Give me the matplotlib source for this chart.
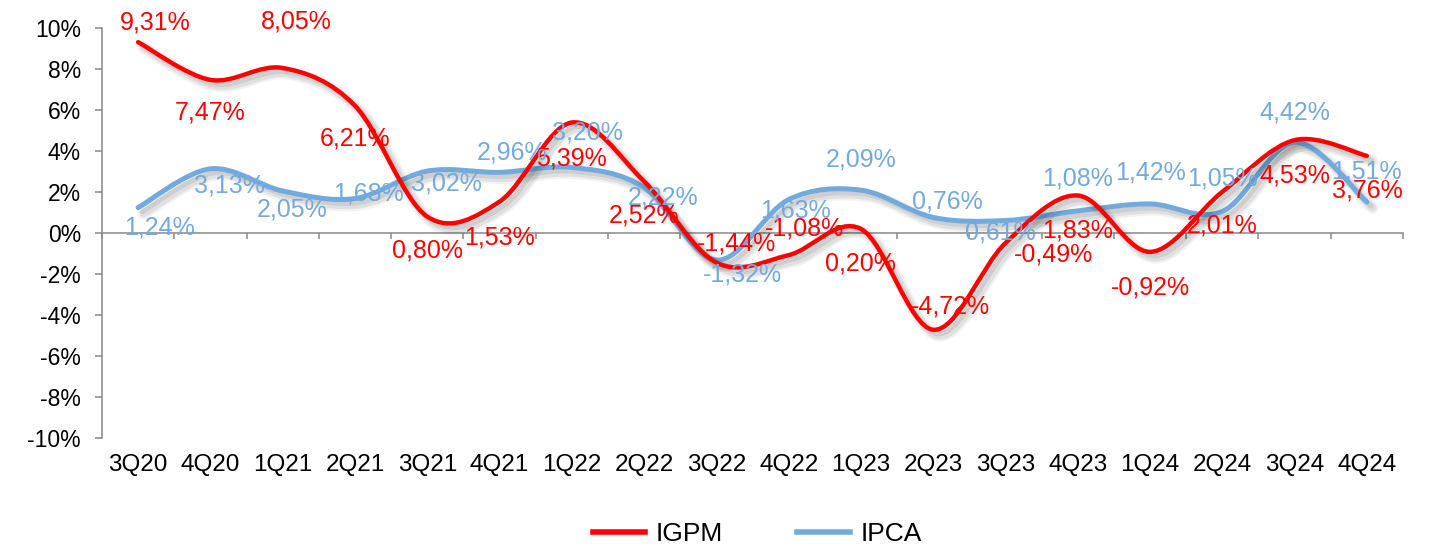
import numpy as np
import matplotlib
matplotlib.use("Agg")
import matplotlib.pyplot as plt
from matplotlib.path import Path
from matplotlib.patches import PathPatch
from matplotlib.lines import Line2D
import matplotlib.patheffects as pe

plt.rcParams['font.family'] = ['Liberation Sans', 'DejaVu Sans']

quarters = ['3Q20', '4Q20', '1Q21', '2Q21', '3Q21', '4Q21', '1Q22', '2Q22', '3Q22',
            '4Q22', '1Q23', '2Q23', '3Q23', '4Q23', '1Q24', '2Q24', '3Q24', '4Q24']
igpm = [9.31, 7.47, 8.05, 6.21, 0.80, 1.53, 5.39, 2.52, -1.44,
        -1.08, 0.20, -4.72, -0.49, 1.83, -0.92, 2.01, 4.53, 3.76]
ipca = [1.24, 3.13, 2.05, 1.68, 3.02, 2.96, 3.20, 2.22, -1.32,
        1.63, 2.09, 0.76, 0.61, 1.08, 1.42, 1.05, 4.42, 1.51]

# label offsets in pixels (dx, dy up)
igpm_off = [(17, 20), (0, -33), (14, 46), (0, -33), (0, -34), (0, -36), (0, -36), (0, -34), (20, 19),
            (16, 27), (0, -35), (17, 23), (48, -11), (0, -35), (0, -36), (0, -34), (0, -35), (0, -35)]
ipca_off = [(21, -20), (19, -17), (9, -19), (14, 5), (19, -12), (13, 20), (16, 35), (19, -10), (26, -14),
            (7, -11), (0, 31), (14, 16), (-5, -12), (0, 32), (0, 31), (0, 33), (0, 30), (0, 31)]

RED = '#FF0000'
BLUE = '#72AADE'


def smooth_path(xs, ys):
    # catmull-rom as cubic bezier, like excel's smoothed line
    pts = np.column_stack([xs, ys]).astype(float)
    verts = [pts[0]]
    codes = [Path.MOVETO]
    n = len(pts)
    for i in range(n - 1):
        p0 = pts[i - 1] if i > 0 else pts[i]
        p1 = pts[i]
        p2 = pts[i + 1]
        p3 = pts[i + 2] if i + 2 < n else pts[i + 1]
        verts += [p1 + (p2 - p0) / 6, p2 - (p3 - p1) / 6, p2]
        codes += [Path.CURVE4] * 3
    return Path(verts, codes)


fig = plt.figure(figsize=(14.34, 5.48), dpi=100)
ax = fig.add_axes([0.0711, 0.2007, 0.9073, 0.7482])
x = np.arange(len(quarters))

shadow = [pe.SimpleLineShadow(offset=(4, -4), shadow_color='k', alpha=0.05, linewidth=9),
          pe.SimpleLineShadow(offset=(4, -4), shadow_color='k', alpha=0.07, linewidth=6),
          pe.SimpleLineShadow(offset=(3, -3), shadow_color='k', alpha=0.08, linewidth=3.5),
          pe.Normal()]

for vals, col, lw, z in [(ipca, BLUE, 3.6, 3), (igpm, RED, 3.2, 4)]:
    patch = PathPatch(smooth_path(x, vals), facecolor='none', edgecolor=col, lw=lw,
                      capstyle='round', joinstyle='round', zorder=z)
    patch.set_path_effects(shadow)
    ax.add_patch(patch)

fmt = lambda v: f"{v:.2f}%".replace('.', ',')
for vals, offs, col, z in [(igpm, igpm_off, RED, 5), (ipca, ipca_off, BLUE, 6)]:
    for i, v in enumerate(vals):
        ax.annotate(fmt(v), (x[i], v), xytext=offs[i], textcoords='offset pixels',
                    ha='center', va='center', color=col, fontsize=18, zorder=z)

ax.set_xlim(-0.5, len(quarters) - 0.5)
ax.set_ylim(-10, 10)
ax.set_yticks(np.arange(-10, 11, 2))
ax.set_yticklabels([f"{t}%" for t in range(-10, 11, 2)])
ax.tick_params(axis='y', length=5, width=1.1, color='#888888', pad=10, labelsize=16.5)

ax.spines['bottom'].set_position(('data', 0))
ax.set_xticks(np.arange(-0.5, len(quarters), 1))
ax.set_xticklabels([])
ax.tick_params(axis='x', length=4.5, width=1.1, color='#888888')
for s in ['top', 'right']:
    ax.spines[s].set_visible(False)
for s in ['left', 'bottom']:
    ax.spines[s].set_color('#888888')
    ax.spines[s].set_linewidth(1.1)

for i, q in enumerate(quarters):
    ax.text(x[i], -0.065, q, transform=ax.get_xaxis_transform(), ha='center', va='center',
            fontsize=17.5)

handles = [Line2D([], [], color=RED, lw=4), Line2D([], [], color=BLUE, lw=4)]
fig.legend(handles, ['IGPM', 'IPCA'], loc='center', bbox_to_anchor=(0.528, 0.025), ncol=2,
           frameon=False, fontsize=19, handlelength=2.0, handletextpad=0.4, columnspacing=2.8)

fig.savefig('out.png', dpi=100)
